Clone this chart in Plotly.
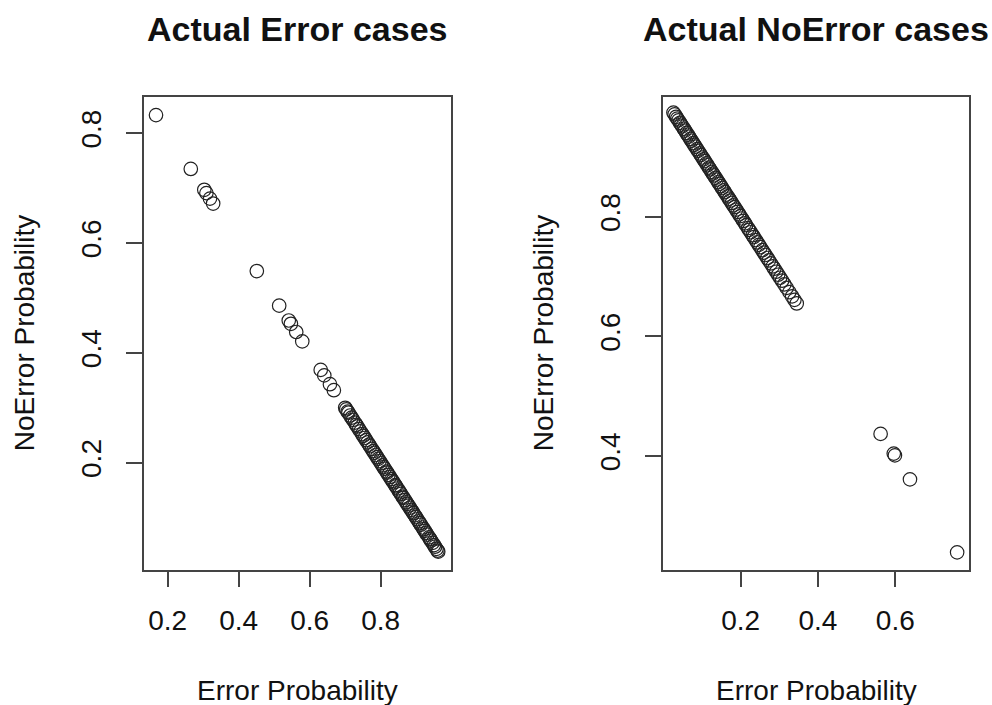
import plotly.graph_objects as go

# Predicted probabilities for observations whose actual class is "Error"
err_error_prob = [
    0.167, 0.265, 0.303, 0.309, 0.319, 0.328, 0.451, 0.514, 0.541, 0.547,
    0.562, 0.579, 0.631, 0.641, 0.657, 0.668,
    0.700, 0.703, 0.707, 0.709, 0.714, 0.718, 0.722, 0.727, 0.731, 0.734,
    0.739, 0.743, 0.748, 0.751, 0.755, 0.759, 0.763, 0.767, 0.770, 0.775,
    0.779, 0.782, 0.786, 0.790, 0.793, 0.797, 0.801, 0.805, 0.808, 0.811,
    0.816, 0.818, 0.822, 0.826, 0.830, 0.833, 0.836, 0.841, 0.843, 0.847,
    0.851, 0.854, 0.857, 0.862, 0.864, 0.868, 0.872, 0.875, 0.878, 0.882,
    0.886, 0.889, 0.892, 0.896, 0.899, 0.903, 0.907, 0.910, 0.913, 0.918,
    0.921, 0.924, 0.928, 0.931, 0.936, 0.939, 0.942, 0.946, 0.950, 0.953,
    0.957, 0.960, 0.962,
]
err_noerror_prob = [
    0.833, 0.735, 0.697, 0.691, 0.681, 0.672, 0.549, 0.486, 0.459, 0.453,
    0.438, 0.421, 0.369, 0.359, 0.343, 0.332,
    0.300, 0.297, 0.293, 0.291, 0.286, 0.282, 0.278, 0.273, 0.269, 0.266,
    0.261, 0.257, 0.252, 0.249, 0.245, 0.241, 0.237, 0.233, 0.230, 0.225,
    0.221, 0.218, 0.214, 0.210, 0.207, 0.203, 0.199, 0.195, 0.192, 0.189,
    0.184, 0.182, 0.178, 0.174, 0.170, 0.167, 0.164, 0.159, 0.157, 0.153,
    0.149, 0.146, 0.143, 0.138, 0.136, 0.132, 0.128, 0.125, 0.122, 0.118,
    0.114, 0.111, 0.108, 0.104, 0.101, 0.097, 0.093, 0.090, 0.087, 0.082,
    0.079, 0.076, 0.072, 0.069, 0.064, 0.061, 0.058, 0.054, 0.050, 0.047,
    0.043, 0.040, 0.038,
]

# Predicted probabilities for observations whose actual class is "NoError"
ok_error_prob = [
    0.026, 0.029, 0.033, 0.036, 0.039, 0.043, 0.046, 0.049, 0.053, 0.056,
    0.060, 0.063, 0.066, 0.070, 0.073, 0.077, 0.080, 0.083, 0.087, 0.090,
    0.094, 0.097, 0.101, 0.104, 0.107, 0.111, 0.114, 0.118, 0.121, 0.125,
    0.128, 0.131, 0.135, 0.138, 0.142, 0.145, 0.149, 0.152, 0.156, 0.159,
    0.163, 0.166, 0.170, 0.173, 0.177, 0.181, 0.184, 0.188, 0.192, 0.196,
    0.199, 0.203, 0.207, 0.211, 0.214, 0.219, 0.222, 0.226, 0.231, 0.234,
    0.239, 0.243, 0.247, 0.251, 0.256, 0.260, 0.264, 0.269, 0.273, 0.278,
    0.283, 0.287, 0.292, 0.297, 0.302, 0.307, 0.313, 0.319, 0.326, 0.333,
    0.339, 0.345,
    0.562, 0.596, 0.599, 0.638, 0.760,
]
ok_noerror_prob = [
    0.974, 0.971, 0.967, 0.964, 0.961, 0.957, 0.954, 0.951, 0.947, 0.944,
    0.940, 0.937, 0.934, 0.930, 0.927, 0.923, 0.920, 0.917, 0.913, 0.910,
    0.906, 0.903, 0.899, 0.896, 0.893, 0.889, 0.886, 0.882, 0.879, 0.875,
    0.872, 0.869, 0.865, 0.862, 0.858, 0.855, 0.851, 0.848, 0.844, 0.841,
    0.837, 0.834, 0.830, 0.827, 0.823, 0.819, 0.816, 0.812, 0.808, 0.804,
    0.801, 0.797, 0.793, 0.789, 0.786, 0.781, 0.778, 0.774, 0.769, 0.766,
    0.761, 0.757, 0.753, 0.749, 0.744, 0.740, 0.736, 0.731, 0.727, 0.722,
    0.717, 0.713, 0.708, 0.703, 0.698, 0.693, 0.687, 0.681, 0.674, 0.667,
    0.661, 0.655,
    0.437, 0.404, 0.401, 0.361, 0.239,
]

panel_titles = ["Actual Error cases", "Actual NoError cases"]
x_label = "Error Probability"
y_label = "NoError Probability"
x_ticks = [[0.2, 0.4, 0.6, 0.8], [0.2, 0.4, 0.6]]
y_ticks = [[0.2, 0.4, 0.6, 0.8], [0.4, 0.6, 0.8]]

W, H = 992, 705
FONT = "Liberation Sans, Arial, Helvetica, sans-serif"
INK = "#111111"
LINE = "#444444"

# Plot regions in pixels: (left, right, top, bottom)
boxes = [(144, 451, 97, 569.5), (663, 969, 97, 569.5)]
x_ranges = [[0.1332, 0.998], [-0.001, 0.7907]]
y_ranges = [[0.0055, 0.866], [0.2103, 1.0001]]

fig = go.Figure()

series = [(err_error_prob, err_noerror_prob), (ok_error_prob, ok_noerror_prob)]
for i, (xs, ys) in enumerate(series):
    suffix = "" if i == 0 else "2"
    fig.add_trace(go.Scatter(
        x=xs, y=ys, mode="markers",
        xaxis="x" + suffix, yaxis="y" + suffix,
        marker=dict(symbol="circle-open", size=13.5, color="#222222",
                    line=dict(width=1.2, color="#222222")),
        showlegend=False, hoverinfo="x+y",
    ))

def axis_common():
    return dict(
        showgrid=False, zeroline=False, showline=True, mirror=True,
        linecolor=LINE, linewidth=1.5,
        ticks="outside", ticklen=16, tickwidth=1.5, tickcolor=LINE,
        tickfont=dict(family=FONT, size=28, color=INK),
        tickmode="array",
    )

layout = dict(
    width=W, height=H, margin=dict(l=0, r=0, t=0, b=0),
    paper_bgcolor="white", plot_bgcolor="white",
    showlegend=False,
)

annotations = []
for i, (l, r, t, b) in enumerate(boxes):
    suffix = "" if i == 0 else "2"
    xa = axis_common()
    xa.update(domain=[l / W, r / W], range=x_ranges[i],
              tickvals=x_ticks[i], ticktext=[f"{v:.1f}" for v in x_ticks[i]],
              anchor="y" + suffix, ticklabelstandoff=9)
    ya = axis_common()
    ya.update(domain=[1 - b / H, 1 - t / H], range=y_ranges[i],
              tickvals=y_ticks[i], ticktext=[f"{v:.1f}" for v in y_ticks[i]],
              anchor="x" + suffix, tickangle=-90, ticklabelstandoff=14)
    layout["xaxis" + suffix] = xa
    layout["yaxis" + suffix] = ya

    cx = (l + r) / 2
    # panel title
    annotations.append(dict(
        text=f"<b>{panel_titles[i]}</b>", xref="paper", yref="paper",
        x=cx / W, y=1 - 29 / H, xanchor="center", yanchor="middle",
        showarrow=False, font=dict(family=FONT, size=34, color=INK),
    ))
    # x axis title
    annotations.append(dict(
        text=x_label, xref="paper", yref="paper",
        x=cx / W, y=1 - 690 / H, xanchor="center", yanchor="middle",
        showarrow=False, font=dict(family=FONT, size=28, color=INK),
    ))
    # y axis title
    annotations.append(dict(
        text=y_label, xref="paper", yref="paper",
        x=(l - 120) / W, y=1 - (t + b) / 2 / H, xanchor="center", yanchor="middle",
        textangle=-90, showarrow=False, font=dict(family=FONT, size=28, color=INK),
    ))

layout["annotations"] = annotations
fig.update_layout(**layout)

fig.write_html("out.html")
